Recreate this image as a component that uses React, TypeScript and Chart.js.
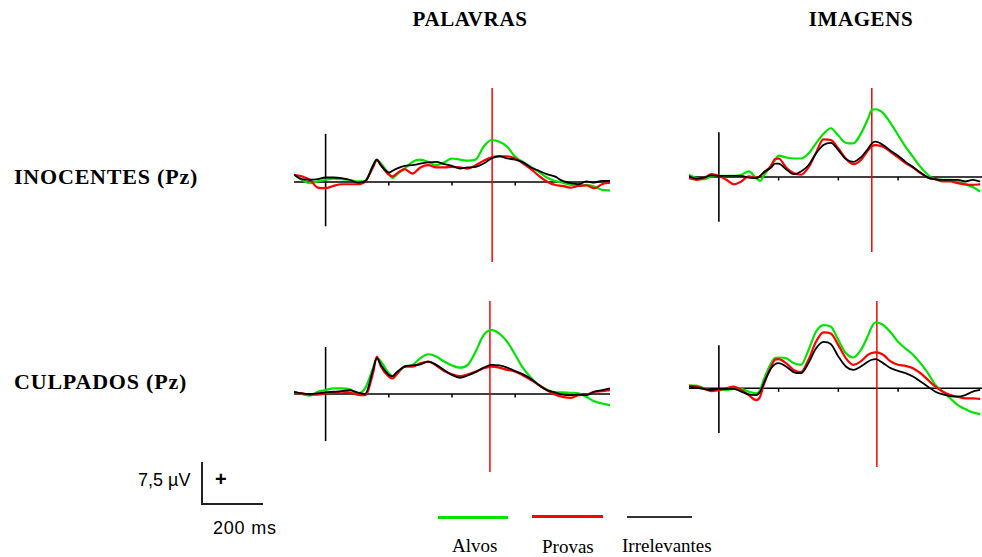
import React, { useEffect, useRef } from "react";
import { Chart, registerables } from "chart.js";

Chart.register(...registerables);

// ---- time axes (ms) ----
const timesPalavras = [-100, -75, -50, -25, 0, 25, 50, 75, 100, 125, 150, 162, 175, 200, 212, 225, 250, 275, 300, 325, 350, 375, 400, 425, 450, 475, 500, 525, 550, 575, 600, 625, 650, 675, 700, 725, 750, 775, 800, 825, 850, 875, 900];
const timesImagens = [-100, -75, -50, -25, 0, 25, 50, 75, 100, 125, 138, 150, 175, 188, 200, 225, 250, 275, 300, 325, 350, 375, 400, 425, 450, 475, 500, 512, 525, 550, 575, 600, 625, 650, 675, 700, 725, 750, 775, 800, 825, 850, 875];

// ---- amplitudes (µV) ----
// Palavras / Inocentes
const alvosPalInoc = [1.3, 0.4, -0.2, 0.1, 0.4, 0.6, 0.5, 0.4, 0.1, 0.1, 3.0, 4.0, 3.3, 1.5, 0.7, 1.3, 2.4, 3.6, 4.0, 3.6, 3.0, 3.5, 4.2, 4.0, 3.8, 4.0, 6.3, 7.5, 7.2, 6.3, 4.5, 3.6, 2.7, 1.8, 0.8, 0.2, -0.1, -0.5, -0.7, -0.5, -0.8, -1.4, -1.5];
const provasPalInoc = [1.3, 1.0, 0.4, -1.0, -1.1, -0.7, -0.4, -0.4, -0.4, 0.1, 2.6, 3.9, 3.0, 1.3, 1.0, 1.5, 2.3, 1.5, 2.6, 3.0, 2.6, 2.6, 2.7, 2.6, 2.4, 3.0, 3.8, 4.4, 4.6, 4.6, 4.2, 3.3, 2.3, 1.1, 0.1, -0.5, -0.7, -1.0, -0.7, -0.6, -1.1, -0.4, -0.1];
const irrelPalInoc = [1.3, 0.5, 0.4, 0.5, 0.8, 0.8, 0.7, 0.4, -0.1, 0.1, 2.9, 4.0, 3.0, 1.7, 2.0, 2.4, 2.9, 3.0, 3.3, 3.5, 3.6, 3.2, 2.9, 2.4, 2.6, 2.7, 3.3, 4.2, 4.6, 4.2, 4.0, 3.5, 2.6, 2.0, 1.4, 1.0, 0.2, -0.2, -0.4, 0.1, -0.1, 0.2, 0.2];
// Imagens / Inocentes
const alvosImgInoc = [0.4, -0.2, -0.4, 0.1, 0.2, 0.2, 0.2, 0.4, 1.0, -0.2, -0.7, 0.2, 2.1, 3.0, 3.8, 3.5, 3.3, 3.3, 4.2, 6.0, 7.7, 8.7, 7.4, 6.1, 6.0, 7.7, 10.5, 12.0, 12.1, 11.4, 9.6, 7.5, 5.4, 3.6, 1.8, 0.4, -0.4, -0.5, -0.5, -0.8, -1.3, -1.8, -2.6];
const provasImgInoc = [-0.2, -0.5, -0.2, 0.5, 0.2, -0.5, -1.3, -0.8, 0.1, -0.1, 0.1, 0.8, 2.0, 3.2, 3.3, 1.7, 0.7, 0.4, 1.7, 4.3, 6.7, 6.6, 5.1, 3.3, 2.3, 3.0, 4.8, 5.5, 5.7, 5.4, 4.5, 3.5, 2.5, 1.7, 0.7, -0.1, -0.4, -0.8, -0.8, -1.1, -1.3, -1.4, -1.3];
const irrelImgInoc = [0.1, -0.3, -0.1, 0.3, 0.2, 0.2, 0.2, 0.2, -0.1, -0.2, 0.2, 0.8, 1.7, 2.4, 2.4, 1.4, 0.5, 1.0, 2.1, 4.2, 5.7, 6.1, 4.8, 3.2, 2.7, 3.5, 5.1, 6.0, 6.3, 5.7, 4.7, 3.8, 2.7, 1.8, 0.8, -0.1, -0.4, -0.5, -0.5, -0.5, -0.8, -0.5, -0.8];
// Palavras / Culpados
const alvosPalCulp = [0.4, 0, -0.3, 0.4, 0.7, 1.0, 1.0, 0.9, 0.1, 1.0, 4.6, 6.4, 5.8, 3.7, 3.2, 3.7, 4.9, 5.2, 6.4, 7.1, 6.7, 5.8, 5.1, 4.7, 5.2, 7.6, 10.5, 11.4, 10.8, 9.3, 7.0, 4.6, 2.9, 1.6, 0.8, 0.3, 0.3, 0.2, 0.1, -0.5, -1.3, -1.7, -2.0];
const provasPalCulp = [0.2, 0.1, -0.1, -0.1, 0.1, 0.3, 0.4, 0.3, -0.1, -0.2, 3.7, 6.7, 4.9, 3.1, 2.8, 3.5, 4.9, 4.9, 5.5, 5.8, 5.1, 4.1, 3.5, 3.2, 3.5, 4.0, 4.6, 4.9, 4.7, 4.3, 4.0, 3.3, 2.5, 1.6, 0.7, -0.1, -0.5, -0.7, -0.2, -0.1, 0.4, 0.5, 0.7];
const irrelPalCulp = [0.4, 0.1, 0, 0.1, 0.3, 0.4, 0.5, 0.7, 0.3, 0, 4.3, 6.4, 5.2, 3.4, 3.2, 3.9, 4.9, 5.1, 5.3, 5.8, 5.2, 4.3, 3.4, 2.9, 3.3, 3.9, 4.7, 5.2, 5.1, 4.7, 4.1, 3.5, 2.7, 1.6, 0.7, 0.3, -0.1, -0.2, -0.1, -0.2, 0.4, 0.7, 1.0];
// Imagens / Culpados
const alvosImgCulp = [0.5, 0.5, 0, -0.3, -0.3, -0.3, -0.1, -0.1, -0.6, -0.9, -0.3, 1.5, 4.5, 5.4, 5.5, 5.4, 4.5, 4.2, 6.8, 10.1, 11.3, 11.0, 8.6, 6.3, 5.5, 6.8, 9.5, 11.0, 11.8, 11.3, 10.0, 8.3, 7.1, 6.0, 4.5, 2.7, 0.6, -0.6, -1.8, -3.0, -3.7, -4.3, -4.6];
const provasImgCulp = [0.5, 0.3, -0.1, -0.5, -0.3, 0, 0.3, -0.3, -1.2, -2.1, -1.5, 0.6, 3.9, 5.1, 5.2, 4.5, 3.3, 2.9, 5.1, 8.3, 10.0, 9.8, 7.7, 5.4, 4.2, 4.8, 6.0, 6.3, 6.4, 6.0, 4.8, 4.2, 4.0, 3.6, 2.7, 1.5, 0.3, -0.6, -1.2, -1.5, -1.8, -1.8, -1.9];
const irrelImgCulp = [0.3, 0.1, -0.1, -0.3, -0.1, -0.1, -0.1, -0.6, -1.1, -1.2, -0.6, 0.9, 3.6, 4.3, 4.5, 3.9, 2.9, 2.7, 4.5, 7.1, 8.3, 7.9, 5.7, 3.9, 3.3, 3.9, 4.8, 5.1, 5.2, 4.5, 3.6, 3.1, 2.7, 2.1, 1.2, 0.3, -0.6, -1.1, -1.4, -1.5, -1.2, -0.6, -0.3];

// marker (red vertical) latency per panel, ms
const markerLatencies = [527, 512, 520, 529];
const tickTimes = [200, 400, 600];

const GREEN = "rgb(0,228,0)";
const RED = "#ff0000";
const BLACK = "#000000";

type PanelCfg = {
  left: number; top: number; width: number; height: number;
  xMin: number; xMax: number; yMin: number; yMax: number;
  axisLow: number; axisHigh: number; marker: number;
  times: number[]; alvos: number[]; provas: number[]; irrel: number[];
};

const panels: PanelCfg[] = [
  { left: 294, top: 88, width: 316, height: 174, xMin: -100, xMax: 900, yMin: -14.29, yMax: 16.79, axisLow: -7.9, axisHigh: 8.6, marker: markerLatencies[0], times: timesPalavras, alvos: alvosPalInoc, provas: provasPalInoc, irrel: irrelPalInoc },
  { left: 689, top: 88, width: 293, height: 164, xMin: -100, xMax: 881, yMin: -13.39, yMax: 15.89, axisLow: -8.0, axisHigh: 8.0, marker: markerLatencies[1], times: timesImagens, alvos: alvosImgInoc, provas: provasImgInoc, irrel: irrelImgInoc },
  { left: 294, top: 301, width: 316, height: 171, xMin: -100, xMax: 900, yMin: -13.93, yMax: 16.61, axisLow: -8.4, axisHigh: 8.4, marker: markerLatencies[2], times: timesPalavras, alvos: alvosPalCulp, provas: provasPalCulp, irrel: irrelPalCulp },
  { left: 689, top: 301, width: 293, height: 166, xMin: -100, xMax: 881, yMin: -14.05, yMax: 15.59, axisLow: -8.0, axisHigh: 7.7, marker: markerLatencies[3], times: timesImagens, alvos: alvosImgCulp, provas: provasImgCulp, irrel: irrelImgCulp },
];

const toPoints = (times: number[], vals: number[]) => times.map((t, i) => ({ x: t, y: vals[i] }));

const ticksPlugin = {
  id: "erpTicks",
  beforeDatasetsDraw(chart: any) {
    const { ctx, scales } = chart;
    const y0 = scales.y.getPixelForValue(0);
    ctx.save();
    ctx.strokeStyle = "#000";
    ctx.lineWidth = 1.5;
    for (const t of tickTimes) {
      const x = scales.x.getPixelForValue(t);
      ctx.beginPath();
      ctx.moveTo(x, y0);
      ctx.lineTo(x, y0 + 3.5);
      ctx.stroke();
    }
    ctx.restore();
  },
};

function ErpPanel({ p }: { p: PanelCfg }) {
  const ref = useRef<HTMLCanvasElement | null>(null);
  useEffect(() => {
    if (!ref.current) return;
    const curve = (data: any, color: string, w: number, order: number) => ({
      data, borderColor: color, borderWidth: w, pointRadius: 0, fill: false,
      cubicInterpolationMode: "monotone", order,
    });
    const straight = (data: any, color: string, w: number, order: number) => ({
      data, borderColor: color, borderWidth: w, pointRadius: 0, fill: false, tension: 0, order,
    });
    const chart = new Chart(ref.current, {
      type: "line",
      data: {
        datasets: [
          curve(toPoints(p.times, p.irrel), BLACK, 1.8, 0),
          curve(toPoints(p.times, p.provas), RED, 2.2, 1),
          curve(toPoints(p.times, p.alvos), GREEN, 2.2, 2),
          straight([{ x: p.marker, y: p.yMin }, { x: p.marker, y: p.yMax }], RED, 1.5, 3),
          straight([{ x: p.xMin, y: 0 }, { x: p.xMax, y: 0 }], BLACK, 1.6, 4),
          straight([{ x: 0, y: p.axisLow }, { x: 0, y: p.axisHigh }], BLACK, 1.6, 4),
        ] as any,
      },
      options: {
        responsive: false,
        animation: false,
        events: [],
        layout: { padding: 0 },
        plugins: { legend: { display: false }, tooltip: { enabled: false } },
        scales: {
          x: { type: "linear", min: p.xMin, max: p.xMax, display: false },
          y: { type: "linear", min: p.yMin, max: p.yMax, display: false },
        },
      } as any,
      plugins: [ticksPlugin],
    });
    return () => chart.destroy();
  }, [p]);
  return (
    <canvas
      ref={ref}
      width={p.width}
      height={p.height}
      style={{ position: "absolute", left: p.left, top: p.top, width: p.width, height: p.height }}
    />
  );
}

const serif = '"Liberation Serif", "Times New Roman", serif';
const sans = '"Liberation Sans", Arial, sans-serif';

const txt = (extra: React.CSSProperties): React.CSSProperties => ({
  position: "absolute", whiteSpace: "nowrap", color: "#000", ...extra,
});

const titleStyle = (left: number): React.CSSProperties =>
  txt({ left, top: 8, width: 200, textAlign: "center", fontFamily: serif, fontWeight: "bold", fontSize: 21, lineHeight: "22px", letterSpacing: 0.6 });

export default function App() {
  return (
    <div style={{ position: "absolute", left: 0, top: 0, width: 982, height: 557, background: "#fff", overflow: "hidden" }}>
      <div style={titleStyle(370)}>PALAVRAS</div>
      <div style={titleStyle(761)}>IMAGENS</div>
      <div style={txt({ left: 14, top: 166, fontFamily: serif, fontWeight: "bold", fontSize: 22, lineHeight: "22px", letterSpacing: 0.8 })}>INOCENTES (Pz)</div>
      <div style={txt({ left: 14, top: 371, fontFamily: serif, fontWeight: "bold", fontSize: 22, lineHeight: "22px", letterSpacing: 0.8 })}>CULPADOS (Pz)</div>

      {panels.map((p, i) => <ErpPanel key={i} p={p} />)}

      {/* scale bar */}
      <div style={txt({ left: 138, top: 471, fontFamily: sans, fontSize: 18, lineHeight: "18px" })}>7,5 µV</div>
      <div style={{ position: "absolute", left: 201, top: 462, width: 2, height: 43, background: "#222" }} />
      <div style={{ position: "absolute", left: 201, top: 503, width: 62, height: 2, background: "#222" }} />
      <div style={txt({ left: 215, top: 469, fontFamily: sans, fontWeight: "bold", fontSize: 20, lineHeight: "20px" })}>+</div>
      <div style={txt({ left: 213, top: 519, fontFamily: sans, fontSize: 18, lineHeight: "18px", letterSpacing: 0.8 })}>200 ms</div>

      {/* legend */}
      <div style={{ position: "absolute", left: 438, top: 516, width: 70, height: 3, background: GREEN }} />
      <div style={{ position: "absolute", left: 532, top: 515, width: 71, height: 3, background: RED }} />
      <div style={{ position: "absolute", left: 627, top: 516, width: 65, height: 1.5, background: "#333" }} />
      <div style={txt({ left: 452, top: 536, fontFamily: serif, fontSize: 19, lineHeight: "19px" })}>Alvos</div>
      <div style={txt({ left: 542, top: 537, fontFamily: serif, fontSize: 19, lineHeight: "19px" })}>Provas</div>
      <div style={txt({ left: 622, top: 536, fontFamily: serif, fontSize: 19, lineHeight: "19px" })}>Irrelevantes</div>
    </div>
  );
}
